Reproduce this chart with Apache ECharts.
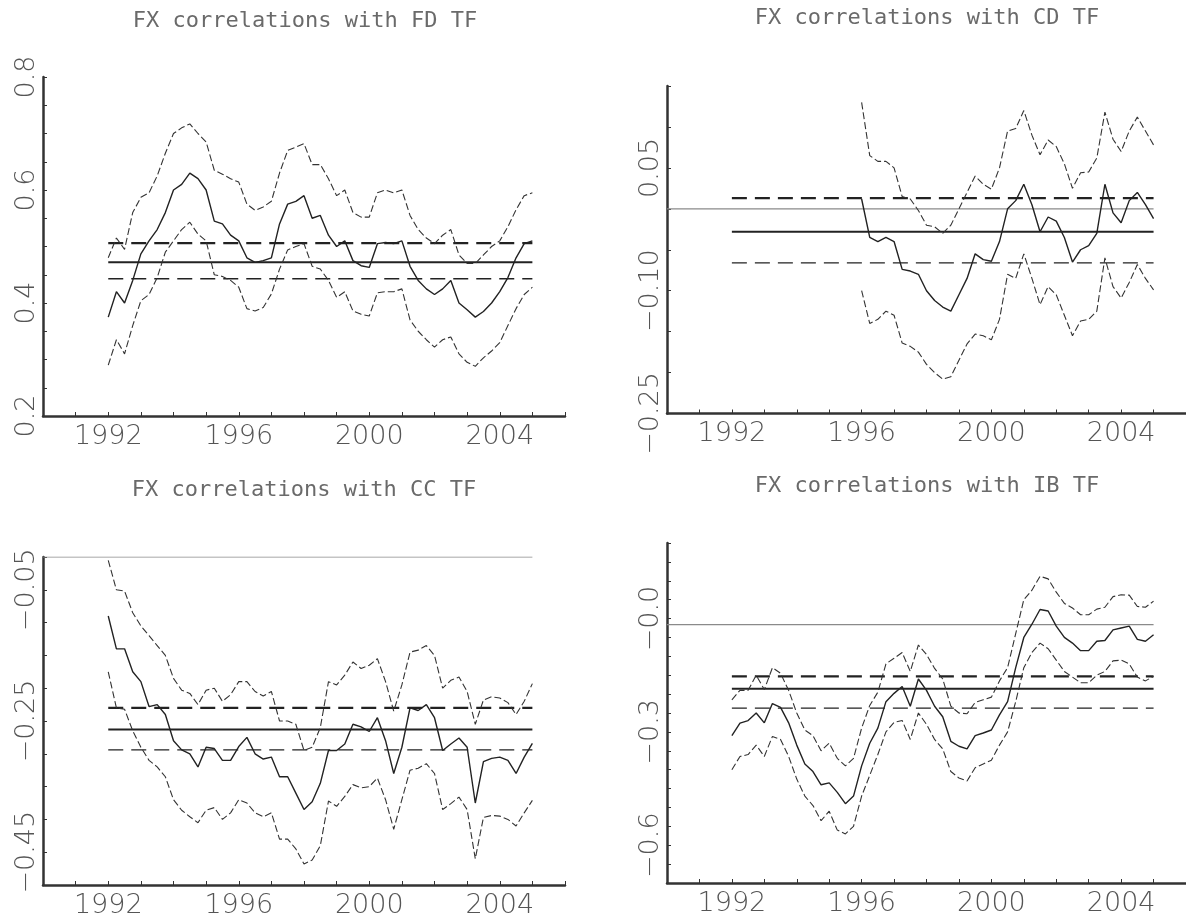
<!DOCTYPE html>
<html><head><meta charset="utf-8">
<script src="https://cdn.jsdelivr.net/npm/echarts@6/dist/echarts.min.js"></script>
<style>html,body{margin:0;padding:0;background:#fff}#c{width:1186px;height:923px}</style>
</head><body><div id="c"></div>
<script>
// ---------- text ----------
const titles = ['FX correlations with FD TF', 'FX correlations with CD TF',
                'FX correlations with CC TF', 'FX correlations with IB TF'];

// ---------- time points (years) ----------
const dates = [
  1992.00, 1992.25, 1992.50, 1992.75, 1993.00, 1993.25, 1993.50, 1993.75,
  1994.00, 1994.25, 1994.50, 1994.75, 1995.00, 1995.25, 1995.50, 1995.75,
  1996.00, 1996.25, 1996.50, 1996.75, 1997.00, 1997.25, 1997.50, 1997.75,
  1998.00, 1998.25, 1998.50, 1998.75, 1999.00, 1999.25, 1999.50, 1999.75,
  2000.00, 2000.25, 2000.50, 2000.75, 2001.00, 2001.25, 2001.50, 2001.75,
  2002.00, 2002.25, 2002.50, 2002.75, 2003.00, 2003.25, 2003.50, 2003.75,
  2004.00, 2004.25, 2004.50, 2004.75, 2005.00];
const datesCD = [
  1996.00, 1996.25, 1996.50, 1996.75, 1997.00, 1997.25, 1997.50, 1997.75,
  1998.00, 1998.25, 1998.50, 1998.75, 1999.00, 1999.25, 1999.50, 1999.75,
  2000.00, 2000.25, 2000.50, 2000.75, 2001.00, 2001.25, 2001.50, 2001.75,
  2002.00, 2002.25, 2002.50, 2002.75, 2003.00, 2003.25, 2003.50, 2003.75,
  2004.00, 2004.25, 2004.50, 2004.75, 2005.00];

// ---------- FD panel ----------
const fdMid = [0.375,0.42,0.40,0.44, 0.487,0.51,0.53,0.56, 0.60,0.61,0.63,0.62, 0.60,0.545,0.54,0.52,
  0.51,0.48,0.472,0.475, 0.48,0.54,0.575,0.58, 0.59,0.55,0.555,0.52, 0.50,0.51,0.475,0.466,
  0.463,0.505,0.507,0.505, 0.51,0.465,0.44,0.425, 0.415,0.425,0.44,0.40, 0.388,0.375,0.385,0.40,
  0.42,0.445,0.48,0.505, 0.51];
const fdUp = [0.48,0.515,0.495,0.56, 0.587,0.595,0.625,0.665, 0.70,0.71,0.717,0.70, 0.685,0.635,0.628,0.62,
  0.614,0.575,0.564,0.57, 0.58,0.63,0.67,0.676, 0.682,0.645,0.645,0.62, 0.59,0.60,0.56,0.552,
  0.552,0.595,0.60,0.595, 0.60,0.555,0.53,0.515, 0.505,0.52,0.53,0.485, 0.47,0.47,0.485,0.50,
  0.51,0.535,0.565,0.59, 0.595];
const fdLo = [0.29,0.335,0.31,0.36, 0.404,0.415,0.445,0.49, 0.51,0.53,0.543,0.522, 0.51,0.45,0.447,0.44,
  0.428,0.39,0.386,0.392, 0.416,0.46,0.494,0.50, 0.505,0.465,0.46,0.44, 0.41,0.42,0.386,0.38,
  0.377,0.418,0.42,0.42, 0.425,0.37,0.35,0.335, 0.322,0.335,0.34,0.31, 0.295,0.288,0.303,0.315,
  0.33,0.36,0.39,0.415, 0.428];

// ---------- CD panel ----------
const cdMid = [0.012,-0.035,-0.04,-0.035, -0.04,-0.074,-0.076,-0.08, -0.10,-0.112,-0.12,-0.125,
  -0.105,-0.085,-0.055,-0.062, -0.064,-0.04,0.0,0.01, 0.03,0.005,-0.028,-0.01,
  -0.015,-0.035,-0.065,-0.05, -0.045,-0.03,0.03,-0.005, -0.017,0.01,0.02,0.005, -0.012];
const cdUp = [0.13,0.065,0.058,0.058, 0.05,0.015,0.012,-0.002, -0.02,-0.022,-0.03,-0.02,
  0.0,0.02,0.04,0.03, 0.024,0.05,0.095,0.098, 0.12,0.09,0.066,0.084,
  0.076,0.055,0.025,0.044, 0.045,0.062,0.118,0.085, 0.07,0.095,0.112,0.095, 0.078];
const cdLo = [-0.10,-0.14,-0.135,-0.125, -0.13,-0.164,-0.168,-0.175, -0.19,-0.20,-0.208,-0.205,
  -0.185,-0.165,-0.153,-0.155, -0.16,-0.135,-0.08,-0.085, -0.055,-0.085,-0.117,-0.095,
  -0.105,-0.13,-0.155,-0.137, -0.135,-0.125,-0.06,-0.095, -0.109,-0.09,-0.068,-0.085, -0.099];

// ---------- CC panel ----------
const ccMid = [-0.09,-0.14,-0.14,-0.175, -0.19,-0.228,-0.225,-0.24, -0.28,-0.294,-0.30,-0.32,
  -0.29,-0.292,-0.31,-0.31, -0.289,-0.275,-0.30,-0.308, -0.305,-0.335,-0.335,-0.36,
  -0.385,-0.373,-0.345,-0.295, -0.295,-0.285,-0.255,-0.259, -0.266,-0.245,-0.28,-0.33,
  -0.29,-0.23,-0.234,-0.225, -0.245,-0.295,-0.285,-0.276, -0.29,-0.375,-0.312,-0.307,
  -0.305,-0.31,-0.33,-0.305, -0.284];
const ccUp = [-0.005,-0.05,-0.052,-0.085, -0.105,-0.12,-0.135,-0.15, -0.185,-0.203,-0.208,-0.225,
  -0.203,-0.20,-0.22,-0.21, -0.19,-0.19,-0.205,-0.212, -0.205,-0.25,-0.25,-0.255,
  -0.295,-0.29,-0.26,-0.19, -0.195,-0.18,-0.16,-0.17, -0.165,-0.155,-0.19,-0.235,
  -0.195,-0.145,-0.142,-0.135, -0.15,-0.20,-0.188,-0.183, -0.205,-0.255,-0.218,-0.213,
  -0.215,-0.222,-0.24,-0.22, -0.193];
const ccLo = [-0.175,-0.23,-0.232,-0.265, -0.29,-0.31,-0.32,-0.335, -0.37,-0.386,-0.396,-0.405,
  -0.386,-0.382,-0.40,-0.39, -0.37,-0.375,-0.39,-0.396, -0.39,-0.43,-0.43,-0.445,
  -0.468,-0.462,-0.44,-0.372, -0.38,-0.365,-0.347,-0.352, -0.35,-0.337,-0.37,-0.415,
  -0.37,-0.325,-0.322,-0.315, -0.33,-0.385,-0.376,-0.366, -0.385,-0.46,-0.397,-0.394,
  -0.395,-0.40,-0.41,-0.39, -0.371];

// ---------- IB panel ----------
const ibMid = [-0.31,-0.277,-0.27,-0.25, -0.276,-0.225,-0.235,-0.276, -0.335,-0.385,-0.405,-0.44,
  -0.435,-0.46,-0.49,-0.47, -0.39,-0.33,-0.29,-0.22, -0.198,-0.18,-0.232,-0.16,
  -0.19,-0.232,-0.26,-0.325, -0.338,-0.345,-0.31,-0.303, -0.295,-0.255,-0.22,-0.13,
  -0.05,-0.015,0.024,0.02, -0.02,-0.05,-0.065,-0.085, -0.085,-0.06,-0.058,-0.03,
  -0.025,-0.02,-0.055,-0.06, -0.043];
const ibUp = [-0.215,-0.19,-0.19,-0.15, -0.188,-0.13,-0.145,-0.19, -0.25,-0.295,-0.31,-0.35,
  -0.33,-0.37,-0.39,-0.37, -0.29,-0.23,-0.195,-0.12, -0.105,-0.09,-0.14,-0.07,
  -0.095,-0.132,-0.16,-0.232, -0.25,-0.252,-0.222,-0.215, -0.208,-0.165,-0.13,-0.04,
  0.05,0.075,0.112,0.105, 0.07,0.04,0.028,0.01, 0.01,0.025,0.03,0.058,
  0.063,0.062,0.032,0.03, 0.046];
const ibLo = [-0.40,-0.365,-0.36,-0.335, -0.365,-0.312,-0.32,-0.365, -0.425,-0.47,-0.495,-0.535,
  -0.51,-0.56,-0.57,-0.55, -0.47,-0.415,-0.36,-0.30, -0.275,-0.27,-0.32,-0.25,
  -0.28,-0.32,-0.345,-0.405, -0.422,-0.43,-0.395,-0.385, -0.375,-0.335,-0.30,-0.22,
  -0.13,-0.09,-0.065,-0.08, -0.11,-0.14,-0.155,-0.17, -0.17,-0.15,-0.14,-0.112,
  -0.11,-0.12,-0.155,-0.165, -0.153];

// ---------- horizontal reference levels (FD, CD, CC, IB) ----------
const meanLevel  = [0.472, -0.028, -0.263, -0.186];
const upperLevel = [0.506,  0.013, -0.230, -0.153];
const lowerLevel = [0.443, -0.066, -0.294, -0.237];
const zeroLevel  = [null, 0, 0, -0.016];
const levelSpan = [1992, 2005];
const zeroSpan = [1990, 2005];

// ---------- axes ----------
const xRange = [1990, 2006];
const xTickYears = [1990,1991,1992,1993,1994,1995,1996,1997,1998,1999,2000,2001,2002,2003,2004,2005,2006];
const xLabelYears = [1992, 1996, 2000, 2004];
const yMin = [0.2, -0.25, -0.5, -0.7];
const yMax = [0.8, 0.15, 0.0, 0.2];
const yTicks = [
  [0.2,0.25,0.3,0.35,0.4,0.45,0.5,0.55,0.6,0.65,0.7,0.75,0.8],
  [-0.25,-0.2,-0.15,-0.1,-0.05,0,0.05,0.1,0.15],
  [-0.5,-0.45,-0.4,-0.35,-0.3,-0.25,-0.2,-0.15,-0.1,-0.05,0],
  [-0.7,-0.65,-0.6,-0.55,-0.5,-0.45,-0.4,-0.35,-0.3,-0.25,-0.2,-0.15,-0.1,-0.05,0,0.05,0.1,0.15,0.2]
];
const yLabelVals = [[0.2,0.4,0.6,0.8], [-0.25,-0.10,0.05], [-0.45,-0.25,-0.05], [-0.6,-0.3,0.0]];
const yLabelText = [['0.2','0.4','0.6','0.8'], ['\u22120.25','\u22120.10','0.05'],
                    ['\u22120.45','\u22120.25','\u22120.05'], ['\u22120.6','\u22120.3','\u22120.0']];

// ---------- build ----------
const panelDates = [dates, datesCD, dates, dates];
const panelMid = [fdMid, cdMid, ccMid, ibMid];
const panelUp = [fdUp, cdUp, ccUp, ibUp];
const panelLo = [fdLo, cdLo, ccLo, ibLo];

const gridLayout = [
  {left: 43, top: 77, width: 522, height: 339},
  {left: 667, top: 86, width: 522, height: 327.5},
  {left: 43, top: 557, width: 522, height: 328},
  {left: 667, top: 543, width: 522, height: 340}
];
const titleLayout = [[305, 10], [927, 7], [304, 479], [927, 475]];

const INK = '#333';
const TXT = '#555';
const zip = (xs, ys) => xs.map((x, k) => [x, ys[k]]);

const option = {
  animation: false,
  backgroundColor: '#fff',
  title: titles.map((t, i) => ({
    text: t, left: titleLayout[i][0], top: titleLayout[i][1], textAlign: 'center', padding: 0,
    textStyle: {fontFamily: 'DejaVu Sans Mono', fontSize: 22, fontWeight: 'normal', color: '#6a6a6a'}
  })),
  grid: gridLayout.map(g => Object.assign({containLabel: false}, g)),
  xAxis: gridLayout.map((g, i) => ({
    type: 'value', gridIndex: i, min: xRange[0], max: xRange[1], interval: 1,
    axisLine: {show: true, onZero: false, lineStyle: {color: INK, width: 2.5}},
    axisTick: {show: true, inside: true, length: 4, customValues: xTickYears, lineStyle: {color: INK, width: 1}},
    axisLabel: {show: true, customValues: xLabelYears, margin: 7, fontFamily: 'DejaVu Sans', fontSize: 27,
                fontWeight: 200, color: TXT, formatter: v => String(v)},
    splitLine: {show: false}
  })),
  yAxis: gridLayout.map((g, i) => ({
    type: 'value', gridIndex: i, min: yMin[i], max: yMax[i], interval: 0.05,
    axisLine: {show: true, onZero: false, lineStyle: {color: INK, width: 2.5}},
    axisTick: {show: true, inside: true, length: 4, customValues: yTicks[i], lineStyle: {color: INK, width: 1}},
    axisLabel: {show: true, customValues: yLabelVals[i], rotate: 90, margin: 3,
                fontFamily: 'DejaVu Sans', fontSize: 27, fontWeight: 200, color: TXT,
                formatter: v => {
                  const k = yLabelVals[i].findIndex(u => Math.abs(u - v) < 1e-6);
                  return k >= 0 ? yLabelText[i][k] : '';
                }},
    splitLine: {show: false}
  })),
  series: []
};

for (let i = 0; i < 4; i++) {
  const base = {type: 'line', xAxisIndex: i, yAxisIndex: i, showSymbol: false, symbol: 'none', silent: true};
  if (zeroLevel[i] !== null) {
    option.series.push(Object.assign({}, base, {
      data: [[zeroSpan[0], zeroLevel[i]], [zeroSpan[1], zeroLevel[i]]],
      lineStyle: {color: '#8a8a8a', width: 1.2}
    }));
  }
  option.series.push(Object.assign({}, base, {
    data: [[levelSpan[0], meanLevel[i]], [levelSpan[1], meanLevel[i]]],
    lineStyle: {color: '#222', width: 2}
  }));
  option.series.push(Object.assign({}, base, {
    data: [[levelSpan[0], upperLevel[i]], [levelSpan[1], upperLevel[i]]],
    lineStyle: {color: '#222', width: 2.2, type: [15, 8]}
  }));
  option.series.push(Object.assign({}, base, {
    data: [[levelSpan[0], lowerLevel[i]], [levelSpan[1], lowerLevel[i]]],
    lineStyle: {color: '#222', width: 1.4, type: [15, 8]}
  }));
  option.series.push(Object.assign({}, base, {
    data: zip(panelDates[i], panelUp[i]),
    lineStyle: {color: '#333', width: 1.1, type: [7, 3]}
  }));
  option.series.push(Object.assign({}, base, {
    data: zip(panelDates[i], panelLo[i]),
    lineStyle: {color: '#333', width: 1.1, type: [7, 3]}
  }));
  option.series.push(Object.assign({}, base, {
    data: zip(panelDates[i], panelMid[i]),
    lineStyle: {color: '#222', width: 1.4}
  }));
}

const chart = echarts.init(document.getElementById('c'), null, {renderer: 'canvas'});
chart.setOption(option);
</script>
</body></html>
